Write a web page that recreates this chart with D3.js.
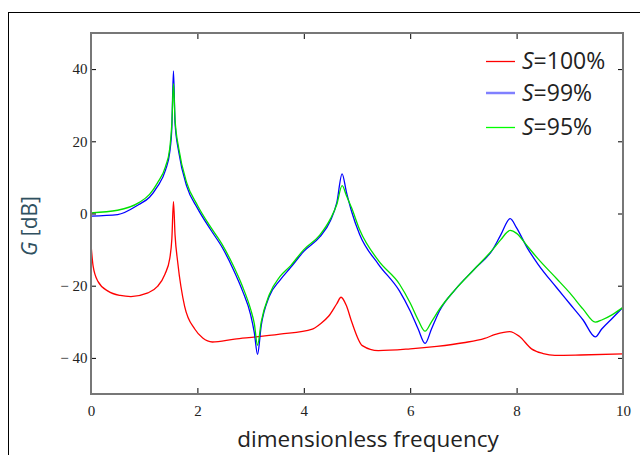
<!DOCTYPE html>
<html>
  <head>
    <meta charset="utf-8">
    <script src="https://cdn.jsdelivr.net/npm/d3@7/dist/d3.min.js"></script>
    <style>
      body { margin: 0; background: #fff; }
    </style>
  </head>
  <body>
    <script>
      var w = 640;
      var h = 455;

      // frequencies shared by the S=99% and S=95% curves
      var freq = [0, 0.5, 0.9, 1.1, 1.25, 1.4, 1.48, 1.52, 1.55, 1.58, 1.65, 1.8, 2.0,
                  2.25, 2.47, 2.66, 2.85, 3.0, 3.07, 3.13, 3.2, 3.35, 3.55, 3.75, 4.0, 4.3, 4.5, 4.62,
                  4.72, 4.8, 4.9, 5.05, 5.4, 5.8, 6.0, 6.15, 6.28, 6.4, 6.55, 6.85, 7.2,
                  7.55, 7.7, 7.88, 8.0, 8.2, 8.4, 8.75, 9.0, 9.25, 9.48, 9.6, 9.8, 10];
      var g99 = [-0.7, -0.3, 2.5, 4.5, 7.5, 12, 17, 24, 39.5, 25, 17, 7.5, 1.5,
                 -4.5, -9.5, -15, -21.5, -28, -33, -39, -31, -23, -18.5, -15, -10.5, -6.5, -2, 3,
                 11, 6, 0.5, -5.8, -14, -21.5, -27, -32, -36, -32, -27, -21, -15.5,
                 -10, -6, -1.4, -4, -9.5, -14, -20.5, -25, -29.5, -34.2, -32, -29, -26];
      var g95 = [0.2, 0.9, 3, 5.3, 8.5, 13, 18, 25, 36, 26, 18, 8.5, 2.3,
                 -3.8, -8.7, -14, -20.3, -26.5, -30.5, -36.5, -30, -22.5, -17.5, -14.5, -10, -6, -1.5, 2.5,
                 7.7, 5, 1.5, -4.5, -13, -19.6, -24.8, -29.5, -32.6, -30, -26.5, -21, -15.5,
                 -10, -7.3, -4.7, -5.5, -9, -12.5, -18, -22, -26.5, -30.1, -29.5, -28, -26];

      // S=100% curve
      var freq100 = [0, 0.04, 0.13, 0.32, 0.55, 0.75, 1.07, 1.25, 1.39, 1.48, 1.52, 1.55,
                     1.58, 1.63, 1.76, 1.95, 2.1, 2.28, 2.7, 3.1, 3.55, 4.16, 4.3, 4.47,
                     4.62, 4.7, 4.8, 4.9, 5.1, 5.4, 6.0, 6.5, 7.0, 7.4, 7.6, 7.87, 8.05,
                     8.28, 8.5, 8.72, 9.2, 10];
      var g100 = [-8.5, -14.6, -18.8, -21.5, -22.7, -23, -22, -20.2, -16.8, -12.5, -7, 3.3,
                  -6, -13.5, -25.7, -32, -34.5, -35.6, -34.8, -34.2, -33.4, -32, -30.7, -28.4,
                  -25, -23.2, -25.5, -30, -36.6, -38, -37.5, -36.8, -35.8, -34.6, -33.5, -32.7, -34,
                  -37.5, -38.8, -39.3, -39.2, -38.9];

      var xTicks = [0, 2, 4, 6, 8, 10];
      var yTicks = [-40, -20, 0, 20, 40];

      var series = [
        {name: "=100%", color: "#ff0000", legend: "#ff0000", x: freq100, y: g100},
        {name: "=99%", color: "#0000ff", legend: "#8080ff", x: freq, y: g99},
        {name: "=95%", color: "#00e000", legend: "#00ff00", x: freq, y: g95}
      ];

      var svg = d3.select("body")
                  .append("svg")
                    .attr("width", w)
                    .attr("height", h);

      // outer frame
      svg.append("rect")
         .attr("x", 8.5).attr("y", 12.5)
         .attr("width", 700).attr("height", 500)
         .attr("fill", "none").attr("stroke", "#000").attr("stroke-width", 1);

      var x = d3.scaleLinear().domain([0, 10]).range([91, 623]);
      var y = d3.scaleLinear().domain([-50, 50]).range([394, 33]);

      svg.append("clipPath").attr("id", "plot")
         .append("rect")
           .attr("x", 91).attr("y", 33)
           .attr("width", 532).attr("height", 361);

      var line = d3.line()
                   .x(function(d) { return x(d[0]); })
                   .y(function(d) { return y(d[1]); })
                   .curve(d3.curveMonotoneX);

      series.forEach(function(s) {
        svg.append("path")
           .attr("d", line(d3.zip(s.x, s.y)))
           .attr("clip-path", "url(#plot)")
           .attr("fill", "none")
           .attr("stroke", s.color)
           .attr("stroke-width", 1.3);
      });

      // axes, ticks pointing inward
      function tickLabel(d) { return d < 0 ? "\u2212 " + Math.abs(d) : d; }

      var axB = svg.append("g").attr("transform", "translate(0,394)")
                   .call(d3.axisBottom(x).tickValues(xTicks).tickSize(-6).tickPadding(11));
      var axL = svg.append("g").attr("transform", "translate(91,0)")
                   .call(d3.axisLeft(y).tickValues(yTicks).tickSize(-5).tickPadding(3.5)
                         .tickFormat(tickLabel));
      var axT = svg.append("g").attr("transform", "translate(0,33)")
                   .call(d3.axisTop(x).tickValues([2, 4, 6, 8]).tickSize(-6).tickFormat(""));
      var axR = svg.append("g").attr("transform", "translate(623,0)")
                   .call(d3.axisRight(y).tickValues(yTicks).tickSize(-5).tickFormat(""));

      [axB, axL, axT, axR].forEach(function(a) {
        a.select(".domain").remove();
        a.selectAll("line").attr("stroke", "#000");
        a.selectAll("text")
         .attr("font-family", "'Liberation Serif', 'DejaVu Serif', serif")
         .attr("font-size", 15)
         .attr("fill", "#222");
      });

      // plot border
      svg.append("rect")
         .attr("x", 91).attr("y", 33)
         .attr("width", 532).attr("height", 361)
         .attr("fill", "none").attr("stroke", "#777").attr("stroke-width", 2);

      // axis titles
      svg.append("text")
         .attr("x", 368).attr("y", 447)
         .attr("text-anchor", "middle")
         .attr("font-family", "'Open Sans', sans-serif")
         .attr("font-size", 22.5)
         .attr("fill", "#222")
         .text("dimensionless frequency");

      var yl = svg.append("text")
         .attr("transform", "translate(37,226) rotate(-90)")
         .attr("text-anchor", "middle")
         .attr("font-family", "'Open Sans', sans-serif")
         .attr("font-size", 21)
         .attr("fill", "#2f5060");
      yl.append("tspan").attr("font-style", "italic").text("G");
      yl.append("tspan").text(" [dB]");

      // legend
      var legY = [61.5, 93, 127.5];
      series.forEach(function(s, i) {
        svg.append("line")
           .attr("x1", 486).attr("x2", 515)
           .attr("y1", legY[i]).attr("y2", legY[i])
           .attr("stroke", s.legend)
           .attr("stroke-width", i == 1 ? 2.5 : 1.3);
        var t = svg.append("text")
           .attr("x", 522).attr("y", legY[i] + 7.5)
           .attr("font-family", "'Open Sans', sans-serif")
           .attr("font-size", 23)
           .attr("fill", "#222");
        t.append("tspan").attr("font-style", "italic").text("S");
        t.append("tspan").text(s.name);
      });
    </script>
  </body>
</html>
